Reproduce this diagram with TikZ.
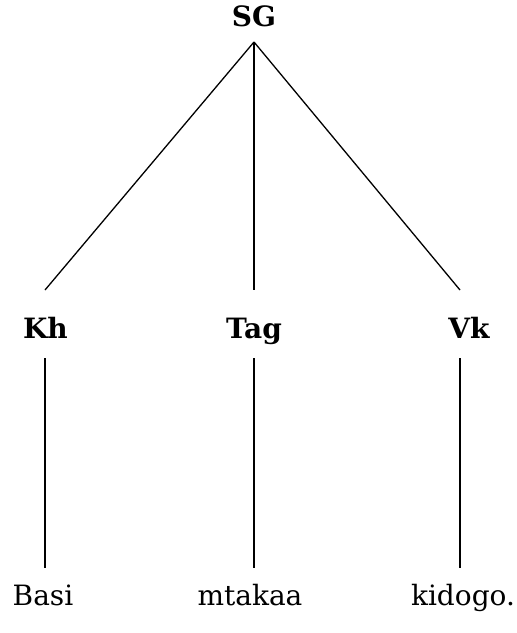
\documentclass[tikz,border=0pt]{standalone}
\usepackage{fontspec}
\setmainfont{DejaVu Serif}
\begin{document}
\begin{tikzpicture}[x=1pt,y=-1pt,
    cat/.style={font=\fontsize{28}{30}\selectfont\bfseries, anchor=base, inner sep=0pt},
    word/.style={font=\fontsize{28}{30}\selectfont, anchor=base, inner sep=0pt},
    branch/.style={line width=1.3pt}]
  \useasboundingbox (0,0) rectangle (517,633);
  % category labels
  \node[cat] (sg)  at (254,26)  {SG};
  \node[cat] (kh)  at (45.5,338) {Kh};
  \node[cat] (tag) at (254,338) {Tag};
  \node[cat] (vk)  at (469,338) {Vk};
  % words
  \node[word] (w1) at (43,605)  {Basi};
  \node[word] (w2) at (250,605) {mtakaa};
  \node[word] (w3) at (463,605) {kidogo.};
  % branch points
  \coordinate (sg-low)  at (254,42);
  \coordinate (kh-up)   at (45,290);
  \coordinate (kh-low)  at (45,358);
  \coordinate (tag-up)  at (254,290);
  \coordinate (tag-low) at (254,358);
  \coordinate (vk-up)   at (460,290);
  \coordinate (vk-low)  at (460,358);
  \coordinate (w1-up)   at (45,568);
  \coordinate (w2-up)   at (254,568);
  \coordinate (w3-up)   at (460,568);
  % branches
  \draw[branch] (sg-low) -- (kh-up);
  \draw[branch] (sg-low) -- (tag-up);
  \draw[branch] (sg-low) -- (vk-up);
  \draw[branch] (kh-low) -- (w1-up);
  \draw[branch] (tag-low) -- (w2-up);
  \draw[branch] (vk-low) -- (w3-up);
\end{tikzpicture}
\end{document}
